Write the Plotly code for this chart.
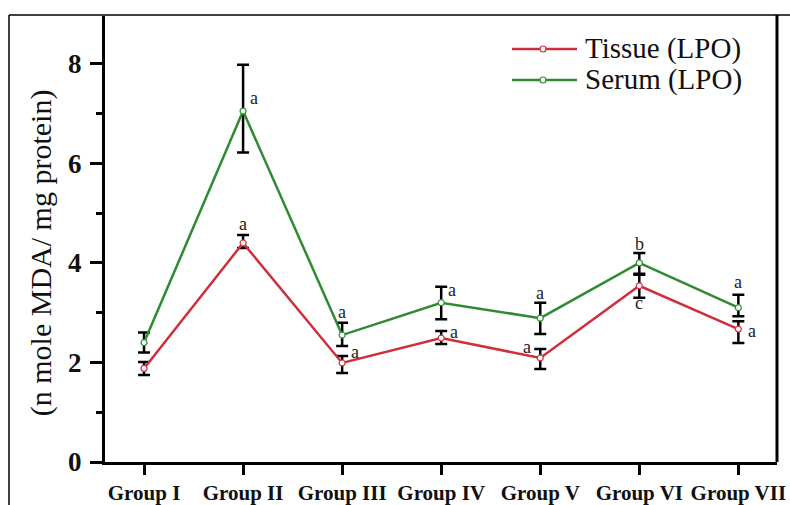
import plotly.graph_objects as go

# Group labels along the x axis
groups = ["Group I", "Group II", "Group III", "Group IV", "Group V", "Group VI", "Group VII"]

# Tissue LPO (n mole MDA / mg protein)
tissue = [1.88, 4.40, 1.99, 2.49, 2.09, 3.54, 2.67]
tissue_err_up = [0.13, 0.16, 0.14, 0.14, 0.18, 0.24, 0.16]
tissue_err_dn = [0.13, 0.10, 0.20, 0.12, 0.22, 0.24, 0.28]

# Serum LPO (n mole MDA / mg protein)
serum = [2.40, 7.05, 2.55, 3.20, 2.89, 4.00, 3.10]
serum_err_up = [0.20, 0.93, 0.25, 0.32, 0.31, 0.20, 0.26]
serum_err_dn = [0.20, 0.83, 0.22, 0.33, 0.32, 0.24, 0.17]

# Significance letters: (group index, y value, x pixel shift, letter)
tissue_letters = [(1, 4.78, 0, "a"), (2, 2.20, 13, "a"), (3, 2.62, 13, "a"),
                  (4, 2.32, -13, "a"), (5, 3.20, 0, "c"), (6, 2.64, 14, "a")]
serum_letters = [(1, 7.32, 11, "a"), (2, 3.02, 0, "a"), (3, 3.46, 11, "a"),
                 (4, 3.40, 0, "a"), (5, 4.38, 0, "b"), (6, 3.62, 0, "a")]

RED = "#cf2f3a"
GREEN = "#2f8a34"
SERIF = "Liberation Serif"

x_idx = list(range(len(groups)))

fig = go.Figure()


def add_series(y, up, dn, color, name):
    fig.add_trace(go.Scatter(
        x=x_idx, y=y, name=name, mode="lines+markers",
        line=dict(color=color, width=2.5),
        marker=dict(symbol="circle", size=6, color="white",
                    line=dict(color=color, width=1.2)),
        error_y=dict(type="data", symmetric=False, array=up, arrayminus=dn,
                     color="black", thickness=2.5, width=6),
        showlegend=False,
    ))


add_series(tissue, tissue_err_up, tissue_err_dn, RED, "Tissue (LPO)")
add_series(serum, serum_err_up, serum_err_dn, GREEN, "Serum (LPO)")

annotations = []
for gi, yv, dx, txt in tissue_letters + serum_letters:
    annotations.append(dict(x=gi, y=yv, xref="x", yref="y", text=txt,
                            showarrow=False, xshift=dx,
                            font=dict(family=SERIF, size=18, color="#222")))

# Y axis title
annotations.append(dict(x=-0.094, y=0.47, xref="paper", yref="paper",
                        xanchor="center", yanchor="middle",
                        text="(n mole MDA/ mg protein)", textangle=-90,
                        showarrow=False,
                        font=dict(family=SERIF, size=30, color="#111")))

# Legend drawn by hand: line segment, hollow marker and label
W, H = 790, 505
L, R, T, B = 105, 13, 16, 43
pw, ph = W - L - R, H - T - B


def px_x(p):
    return (p - L) / pw


def px_y(p):
    return (H - B - p) / ph


shapes = []
legend_items = [("Tissue (LPO)", RED, 49), ("Serum (LPO)", GREEN, 80)]
for label, color, ypx in legend_items:
    shapes.append(dict(type="line", xref="paper", yref="paper",
                       x0=px_x(512), x1=px_x(577), y0=px_y(ypx), y1=px_y(ypx),
                       line=dict(color=color, width=2.5)))
    shapes.append(dict(type="circle", xref="paper", yref="paper",
                       xsizemode="pixel", ysizemode="pixel",
                       xanchor=px_x(543), yanchor=px_y(ypx),
                       x0=-3, x1=3, y0=-3, y1=3,
                       fillcolor="white", line=dict(color=color, width=1.2)))
    annotations.append(dict(x=px_x(583), y=px_y(ypx), xref="paper", yref="paper",
                            text=label, showarrow=False, xanchor="left",
                            yanchor="middle",
                            font=dict(family=SERIF, size=29, color="#111")))

# Outer frame lines (left edge and top edge of the figure box)
shapes.append(dict(type="line", xref="paper", yref="paper",
                   x0=px_x(9), x1=px_x(9), y0=px_y(15), y1=px_y(506),
                   line=dict(color="black", width=1.5)))
shapes.append(dict(type="line", xref="paper", yref="paper",
                   x0=px_x(9), x1=px_x(791), y0=px_y(15), y1=px_y(15),
                   line=dict(color="black", width=1.5)))
# Right spine of the plot box
shapes.append(dict(type="line", xref="paper", yref="paper",
                   x0=1, x1=1, y0=0, y1=px_y(15),
                   line=dict(color="black", width=3)))

fig.update_layout(
    width=W, height=H,
    margin=dict(l=L, r=R, t=T, b=B, autoexpand=False),
    paper_bgcolor="white", plot_bgcolor="white",
    annotations=annotations, shapes=shapes,
    showlegend=False,
    xaxis=dict(
        range=[-0.394, 6.39], tickmode="array", tickvals=x_idx, ticktext=groups,
        showline=True, linecolor="black", linewidth=3, mirror=False,
        ticks="outside", ticklen=10, tickwidth=3, tickcolor="black",
        showgrid=False, zeroline=False, automargin=False,
        tickfont=dict(family=SERIF, size=21, color="#111", weight="bold"),
    ),
    yaxis=dict(
        range=[0, 8.96], tickmode="array", tickvals=[0, 2, 4, 6, 8],
        showline=True, linecolor="black", linewidth=3,
        ticks="outside", ticklen=12, tickwidth=3, tickcolor="black",
        showgrid=False, zeroline=False, automargin=False,
        ticklabelstandoff=3,
        tickfont=dict(family=SERIF, size=27, color="#111", weight="bold"),
        minor=dict(tickvals=[1, 3, 5, 7], ticks="outside", ticklen=6,
                   tickwidth=3, tickcolor="black", showgrid=False),
    ),
)

fig.write_html("out.html")
